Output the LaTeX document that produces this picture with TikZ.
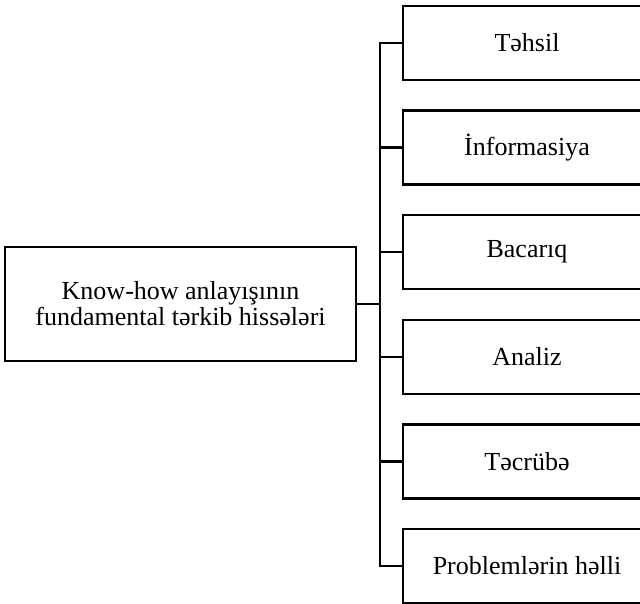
\documentclass[tikz,border=0pt]{standalone}
\usepackage{fontspec}
\setmainfont{Liberation Serif}
\usepackage{tikz}
\tikzset{
	part/.style={draw, line width=1.8pt, inner sep=0pt, minimum width=186pt, minimum height=55.5pt,
			font=\fontsize{19.5}{19.5}\selectfont},
	whole/.style={draw, line width=1.8pt, inner sep=0pt, minimum width=263.25pt, minimum height=85.5pt,
			align=center, font=\fontsize{19.5}{19.5}\selectfont},
	link/.style={line width=1.8pt}
}

\begin{document}
\begin{tikzpicture}[x=0.75pt,y=-0.75pt]
	\useasboundingbox (0,0) rectangle (640,604);
	\clip (0,0) rectangle (640,604);

	\node[whole] (knowhow) at (180.5,304) {Know-how anlayışının\\fundamental tərkib hissələri};
	\coordinate (bus) at (380,0);

	\foreach \name/\txt [count=\i] in {tehsil/Təhsil, info/İnformasiya, bacariq/Bacarıq,
			analiz/Analiz, tecrube/Təcrübə, helli/Problemlərin həlli} {
			\node[part] (\name) at (527,{43+104.6*(\i-1)}) {\txt};
			\draw[link] (\name.west) -- (\name.west -| bus);
		}

	\draw[link, line cap=rect] (tehsil.west -| bus) -- (helli.west -| bus);
	\draw[link] (knowhow.east) -- (knowhow.east -| bus);
\end{tikzpicture}
\end{document}
